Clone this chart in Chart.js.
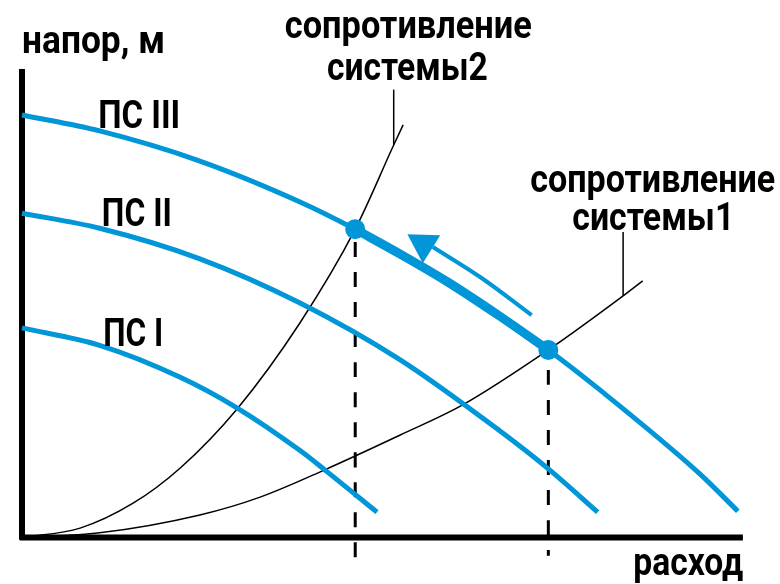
<!DOCTYPE html>
<html>
<head>
<meta charset="utf-8">
<script src="https://cdn.jsdelivr.net/npm/chart.js@4.4.0/dist/chart.umd.min.js"></script>
<style>
  html, body { margin: 0; padding: 0; background: #fff; }
  #wrap { width: 780px; height: 584px; }
</style>
</head>
<body>
<div id="wrap"><canvas id="chart" width="780" height="584"></canvas></div>
<script>
// x = расход, y = напор (axes run 0..100)
const pumpI = [[0, 44.6], [10.7, 40.9], [21.8, 34.1], [29.6, 27.6], [38.3, 18.5], [41.7, 14.4], [48.9, 5.4]];
const pumpII = [[0, 69.0], [10.7, 65.8], [24.5, 59.3], [38.3, 49.9], [52.1, 37.8], [65.8, 22.7], [72.5, 14.6], [79.3, 5.4]];
const pumpIII = [[0, 89.9], [10.7, 86.5], [24.5, 80.1], [38.3, 71.4], [45.9, 65.6], [52.1, 60.3], [65.8, 47.1], [72.5, 39.9], [79.6, 31.4], [93.4, 13.5], [98.6, 5.6]];
const workPart = [[45.9, 65.6], [52.1, 60.3], [58.5, 54.5], [65.8, 47.1], [72.5, 39.9]];
const system1 = [[0, 0], [10.7, 1.0], [24.5, 4.8], [32.8, 8.6], [41.7, 14.4], [52.1, 21.8], [60.7, 28.2], [72.5, 39.9], [82.8, 51.4], [85.5, 54.6]];
const system2 = [[0, 0], [8.0, 2.0], [15.3, 7.3], [21.8, 14.8], [29.6, 27.3], [38.3, 45.7], [45.9, 65.6], [51.2, 83.5], [52.5, 87.8]];
const leader1 = [[82.8, 65.0], [82.8, 51.4]];
const leader2 = [[51.2, 95.3], [51.2, 83.5]];
const dutyPoints = [[45.9, 65.6], [72.5, 39.9]];
const dropLine1 = [[45.9, 65.6], [45.9, -4.4]];
const dropLine2 = [[72.5, 39.9], [72.5, -3.9]];
const arrowPath = [[70.2, 47.3], [63.5, 55.0], [56.6, 61.8]];
const arrowHead = [[55.3, 62.4]];
const axisX = [[-0.3, 0], [99.3, 0]];
const axisY = [[0, -0.5], [0, 99.7]];

const curveNames = ['ПС I', 'ПС II', 'ПС III'];
const systemNames = [['сопротивление', 'системы1'], ['сопротивление', 'системы2']];
const axisTitles = ['расход', 'напор, м'];

const blue = '#0096d7';
const pts = arr => arr.map(p => ({ x: p[0], y: p[1] }));

function line(data, color, width, order, extra) {
  return Object.assign({
    data: pts(data), borderColor: color, borderWidth: width, pointRadius: 0,
    fill: false, cubicInterpolationMode: 'monotone', order: order
  }, extra || {});
}

const labelPlugin = {
  id: 'labels',
  afterDatasetsDraw(chart) {
    const ctx = chart.ctx;
    const sx = chart.scales.x, sy = chart.scales.y;
    // text, x, baseline y (data units), width in px
    const items = [
      [axisTitles[1], 0, 103.1, 143],
      [axisTitles[0], 84.2, -8.0, 110],
      [curveNames[2], 10.5, 87.1, 82],
      [curveNames[1], 11.0, 66.3, 70],
      [curveNames[0], 11.2, 40.7, 60],
      [systemNames[1][0], 36.2, 106.3, 247],
      [systemNames[1][1], 42.0, 97.3, 161],
      [systemNames[0][0], 70.0, 73.5, 245],
      [systemNames[0][1], 75.8, 65.4, 162]
    ];
    ctx.save();
    ctx.fillStyle = '#000';
    ctx.font = 'bold 39px Roboto';
    ctx.textBaseline = 'alphabetic';
    ctx.textAlign = 'left';
    items.forEach(it => {
      const w = ctx.measureText(it[0]).width;
      ctx.save();
      ctx.translate(sx.getPixelForValue(it[1]), sy.getPixelForValue(it[2]));
      ctx.scale(it[3] / w, 1);
      ctx.fillText(it[0], 0, 0);
      ctx.restore();
    });
    ctx.restore();
  }
};

new Chart(document.getElementById('chart'), {
  type: 'line',
  data: {
    datasets: [
      line(dutyPoints, blue, 0, 0, { showLine: false, pointRadius: 10, pointBackgroundColor: blue, pointBorderWidth: 0 }),
      line(arrowHead, blue, 0, 1, { showLine: false, pointRadius: 19, pointStyle: 'triangle', pointRotation: -58, pointBackgroundColor: blue, pointBorderWidth: 0 }),
      line(workPart, blue, 9, 2),
      line(arrowPath, blue, 4, 3),
      line(pumpIII, blue, 5, 4),
      line(pumpII, blue, 5, 5),
      line(pumpI, blue, 5, 6),
      line(dropLine1, '#000', 3, 7, { borderDash: [15, 15], borderDashOffset: 17 }),
      line(dropLine2, '#000', 3, 8, { borderDash: [15, 15], borderDashOffset: 10 }),
      line(system1, '#000', 1.5, 9),
      line(system2, '#000', 1.5, 10),
      line(leader1, '#000', 1.5, 11),
      line(leader2, '#000', 1.5, 12),
      line(axisX, '#000', 6, 13),
      line(axisY, '#000', 6, 14)
    ]
  },
  options: {
    responsive: false,
    animation: false,
    events: [],
    layout: { padding: 0, autoPadding: false },
    plugins: { legend: { display: false }, tooltip: { enabled: false } },
    scales: {
      x: { type: 'linear', display: false, min: -3.03, max: 104.41 },
      y: { type: 'linear', display: false, min: -9.89, max: 114.36 }
    }
  },
  plugins: [labelPlugin]
});
</script>
</body>
</html>
